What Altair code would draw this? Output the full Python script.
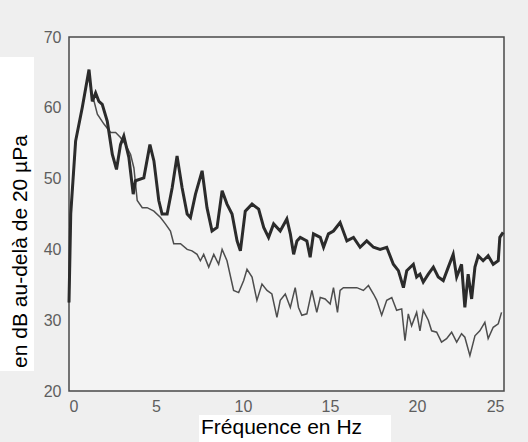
import altair as alt
import pandas as pd

# Upper (thick) spectrum
thick_hz = [0.0, 0.10, 0.38, 0.76, 1.15, 1.34, 1.53, 1.72, 1.91, 2.20, 2.49, 2.73, 2.96, 3.15,
            3.44, 3.69, 3.82, 4.30, 4.65, 4.88, 5.16, 5.35, 5.64, 5.93, 6.21, 6.50, 6.79, 6.98,
            7.27, 7.65, 7.93, 8.22, 8.51, 8.80, 9.08, 9.37, 9.66, 9.85, 10.13, 10.52, 10.90,
            11.19, 11.47, 11.76, 12.14, 12.52, 12.72, 12.91, 13.10, 13.29, 13.67, 13.86, 14.05,
            14.44, 14.63, 14.91, 15.20, 15.58, 15.97, 16.35, 16.73, 17.11, 17.50, 17.88, 18.26,
            18.64, 18.93, 19.22, 19.41, 19.79, 19.98, 20.17, 20.36, 20.65, 20.94, 21.22, 21.51,
            21.80, 22.08, 22.28, 22.56, 22.75, 22.94, 23.14, 23.33, 23.52, 23.80, 24.09, 24.38,
            24.67, 24.76, 24.95]
thick_db = [32.5, 45.0, 55.3, 60.0, 65.4, 60.9, 62.1, 60.9, 60.5, 58.1, 53.4, 51.3, 54.8, 56.0,
            53.0, 47.8, 49.7, 50.1, 54.8, 52.5, 46.9, 45.0, 45.0, 48.7, 53.2, 48.7, 45.0, 44.5,
            47.8, 51.1, 45.9, 42.6, 43.1, 48.3, 46.4, 45.0, 41.2, 39.8, 45.4, 46.4, 45.7,
            43.1, 41.7, 43.6, 42.6, 44.3, 42.2, 39.3, 41.2, 41.7, 41.2, 38.9, 42.2,
            41.7, 40.3, 42.2, 42.6, 43.8, 41.2, 41.7, 40.3, 41.2, 40.3, 40.0, 40.3,
            37.9, 37.0, 34.6, 37.0, 37.9, 36.1, 36.5, 35.4, 36.5, 37.5, 36.1, 35.6,
            37.5, 39.3, 36.1, 37.9, 31.8, 36.5, 33.0, 37.5, 39.1, 38.4, 39.1, 37.9,
            38.4, 41.7, 42.4]

# Lower (thin) spectrum
thin_hz = [0.0, 0.10, 0.38, 0.76, 1.09, 1.34, 1.63, 2.01, 2.39, 2.68, 2.96, 3.25, 3.54, 3.73,
           3.92, 4.21, 4.49, 4.88, 5.26, 5.54, 5.83, 6.02, 6.41, 6.79, 7.07, 7.36, 7.55, 7.74,
           8.03, 8.32, 8.60, 8.80, 9.08, 9.46, 9.75, 10.04, 10.23, 10.52, 10.80, 11.09, 11.38,
           11.66, 11.95, 12.14, 12.43, 12.72, 13.00, 13.19, 13.38, 13.67, 13.96, 14.24, 14.44,
           14.72, 15.01, 15.20, 15.43, 15.58, 15.77, 16.16, 16.54, 16.92, 17.21, 17.50, 17.69,
           17.97, 18.26, 18.55, 18.83, 19.12, 19.31, 19.50, 19.69, 19.98, 20.17, 20.36, 20.65,
           20.84, 21.13, 21.41, 21.70, 21.99, 22.28, 22.56, 22.75, 23.04, 23.33, 23.61, 23.90,
           24.09, 24.38, 24.67, 24.86]
thin_db = [32.5, 45.0, 55.3, 60.0, 64.5, 61.9, 59.1, 57.7, 56.5, 56.5, 55.8, 54.8, 53.4, 51.5,
           46.9, 45.9, 45.9, 45.4, 44.5, 43.6, 42.6, 40.8, 40.8, 40.0, 39.8, 39.3, 38.4, 39.3,
           37.5, 39.3, 37.9, 40.0, 38.4, 34.2, 33.9, 35.6, 37.2, 36.1, 32.8, 35.1, 34.2,
           33.7, 30.4, 32.8, 33.7, 31.8, 34.6, 31.8, 30.7, 30.9, 34.2, 31.1, 33.2,
           33.0, 32.3, 34.6, 31.1, 34.2, 34.6, 34.6, 34.6, 34.2, 34.9, 33.7, 32.8,
           30.7, 32.8, 33.2, 31.4, 31.6, 27.1, 30.9, 29.2, 31.1, 28.5, 31.4, 30.0,
           28.5, 28.3, 26.9, 27.4, 28.3, 26.9, 28.1, 27.6, 25.0, 27.8, 28.5, 29.7,
           27.4, 29.0, 29.5, 31.1]

x_ticks = [0, 5, 10, 15, 20, 25]
y_ticks = [20, 30, 40, 50, 60, 70]

df = pd.concat([
    pd.DataFrame({"f": thick_hz, "db": thick_db, "s": "haut", "o": range(len(thick_hz))}),
    pd.DataFrame({"f": thin_hz, "db": thin_db, "s": "bas", "o": range(len(thin_hz))}),
])

x_enc = alt.X("f:Q", scale=alt.Scale(domain=[0, 25], nice=False),
              axis=alt.Axis(values=x_ticks, title="Fréquence en Hz", ticks=False, domain=False,
                            grid=False, labelFontSize=16, labelColor="#5e5e5e",
                            labelFont="Liberation Sans", labelPadding=7,
                            titleFontSize=21, titleFont="Liberation Sans", titleFontWeight="normal",
                            titleColor="#000000", titleX=212, titleY=42,
                            titleAlign="center", titleBaseline="alphabetic", zindex=1))
y_enc = alt.Y("db:Q", scale=alt.Scale(domain=[20, 70], nice=False),
              axis=alt.Axis(values=y_ticks, title="en dB au-delà de 20 µPa", ticks=False, domain=False,
                            grid=False, labelFontSize=16, labelColor="#5e5e5e",
                            labelFont="Liberation Sans", labelPadding=8,
                            titleFontSize=21, titleFont="Liberation Sans", titleFontWeight="normal",
                            titleColor="#000000", titleX=-43, titleY=214, titleAngle=270,
                            titleAlign="center", titleBaseline="alphabetic", zindex=1))

thin = alt.Chart(df).transform_filter(alt.datum.s == "bas").mark_line(
    color="#4d4d4d", strokeWidth=1.5).encode(x=x_enc, y=y_enc, order="o:Q")
thick = alt.Chart(df).transform_filter(alt.datum.s == "haut").mark_line(
    color="#2b2b2b", strokeWidth=3).encode(x=x_enc, y=y_enc, order="o:Q")

box_data = alt.Data(values=[{"k": 1}])
ybox = alt.Chart(box_data).mark_rect(color="white").encode(
    x=alt.value(-69), x2=alt.value(-35), y=alt.value(20), y2=alt.value(334))
xbox = alt.Chart(box_data).mark_rect(color="white").encode(
    x=alt.value(130), x2=alt.value(322), y=alt.value(378), y2=alt.value(405))

chart = alt.layer(ybox, xbox, thin, thick).properties(
    width=435, height=354,
    autosize=alt.AutoSizeParams(type="none"),
    padding={"left": 69, "top": 37, "right": 24, "bottom": 51},
    background="#efefef",
).configure_view(stroke="#4a4a4a", strokeWidth=1.5, fill="#f3f3f3")

chart.save("out.html", embed_options={"renderer": "svg", "actions": False})
